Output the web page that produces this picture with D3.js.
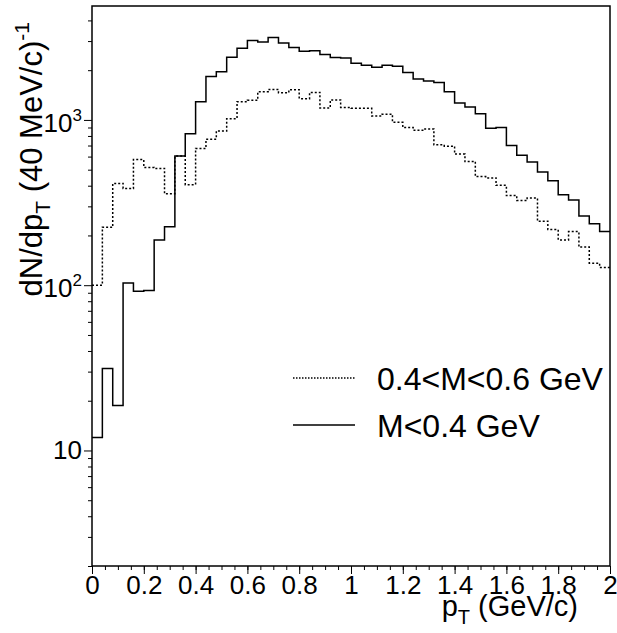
<!DOCTYPE html>
<html>
<head>
<meta charset="utf-8">
<script src="https://cdn.jsdelivr.net/npm/d3@7"></script>
<style>
  body { margin: 0; background: #fff; }
  text { font-family: "Liberation Sans", Arial, Helvetica, sans-serif; fill: #000; }
</style>
</head>
<body>
<div class="hist"></div>
<script>
// GLOBAL CONSTANTS
const MARGINS = {left: 92, right: 7, top: 6, bottom: 67};
const FRAME_WIDTH = 617;
const FRAME_HEIGHT = 633;

const GRAPH_WIDTH = FRAME_WIDTH - MARGINS.left - MARGINS.right;
const GRAPH_HEIGHT = FRAME_HEIGHT - MARGINS.top - MARGINS.bottom;

// DATA (lower bin edges in GeV/c, 40 MeV bins)
const BIN_LOW = [0.00, 0.04, 0.08, 0.12, 0.16, 0.20, 0.24, 0.28, 0.32, 0.36,
                 0.40, 0.44, 0.48, 0.52, 0.56, 0.60, 0.64, 0.68, 0.72, 0.76,
                 0.80, 0.84, 0.88, 0.92, 0.96, 1.00, 1.04, 1.08, 1.12, 1.16,
                 1.20, 1.24, 1.28, 1.32, 1.36, 1.40, 1.44, 1.48, 1.52, 1.56,
                 1.60, 1.64, 1.68, 1.72, 1.76, 1.80, 1.84, 1.88, 1.92, 1.96];
const PT_MAX = 2.0;

// M < 0.4 GeV (solid)
const LOW_MASS = [12.0, 31.3, 18.7, 103, 92, 93, 188, 226, 604, 824,
                  1289, 1834, 1954, 2398, 2716, 3020, 2963, 3150, 2924, 2740,
                  2606, 2620, 2488, 2389, 2370, 2203, 2143, 2085, 2143, 2113,
                  1936, 1766, 1718, 1687, 1480, 1266, 1197, 1091, 891, 899,
                  700, 612, 556, 484, 429, 353, 328, 262, 235, 211];

// 0.4 < M < 0.6 GeV (dotted)
const MID_MASS = [100, 224, 413, 385, 576, 516, 509, 357, 604, 406,
                  672, 765, 858, 1018, 1289, 1314, 1481, 1530, 1460, 1523,
                  1344, 1467, 1181, 1320, 1190, 1176, 1176, 1057, 1083, 968,
                  899, 866, 882, 707, 694, 621, 561, 454, 446, 402,
                  349, 325, 337, 244, 217, 188, 211, 170, 136, 128];

const X_TICKS = [0, 0.2, 0.4, 0.6, 0.8, 1, 1.2, 1.4, 1.6, 1.8, 2];
const X_TICK_LABELS = ["0", "0.2", "0.4", "0.6", "0.8", "1", "1.2", "1.4", "1.6", "1.8", "2"];
const Y_TICKS = [10, 100, 1000];
const Y_TICK_BASE = ["10", "10", "10"];
const Y_TICK_EXP = ["", "2", "3"];

const LEGEND_LABELS = ["0.4<M<0.6 GeV", "M<0.4 GeV"];

// FRAME
const FRAME = d3.select(".hist")
                .append("svg")
                  .attr("width", FRAME_WIDTH)
                  .attr("height", FRAME_HEIGHT);

// SCALES
const X_SCALE = d3.scaleLinear()
                  .domain([0, PT_MAX])
                  .range([0, GRAPH_WIDTH]);

const Y_SCALE = d3.scaleLog()
                  .domain([2.0, 4890])
                  .range([GRAPH_HEIGHT, 0]);

const PLOT = FRAME.append("g")
                  .attr("transform", "translate(" + MARGINS.left + "," + MARGINS.top + ")");

// X AXIS (minor then major)
PLOT.append("g")
    .attr("transform", "translate(0," + GRAPH_HEIGHT + ")")
    .call(d3.axisBottom(X_SCALE).ticks(40).tickSize(4).tickFormat(""))
    .call(g => g.select(".domain").remove());

PLOT.append("g")
    .attr("transform", "translate(0," + GRAPH_HEIGHT + ")")
    .call(d3.axisBottom(X_SCALE)
            .tickValues(X_TICKS)
            .tickSize(8)
            .tickPadding(2)
            .tickFormat((d, i) => X_TICK_LABELS[i]))
    .call(g => g.select(".domain").remove())
    .selectAll("text")
      .attr("font-size", "26px");

// Y AXIS (minor then major)
const Y_MINOR = Y_SCALE.ticks().filter((d) => Y_TICKS.indexOf(d) < 0);

PLOT.append("g")
    .call(d3.axisLeft(Y_SCALE).tickValues(Y_MINOR).tickSize(4).tickFormat(""))
    .call(g => g.select(".domain").remove());

const Y_AXIS = PLOT.append("g")
    .call(d3.axisLeft(Y_SCALE)
            .tickValues(Y_TICKS)
            .tickSize(8)
            .tickPadding(2)
            .tickFormat(""))
    .call(g => g.select(".domain").remove());

Y_AXIS.selectAll(".tick text")
    .attr("font-size", "26px")
    .each(function(d, i) {
        const t = d3.select(this);
        t.append("tspan").text(Y_TICK_BASE[i]);
        if (Y_TICK_EXP[i] !== "") {
            t.attr("dy", "0.45em");
            t.append("tspan")
             .attr("font-size", "17px")
             .attr("dy", "-11")
             .text(Y_TICK_EXP[i]);
        }
    });

// FRAME BOX
PLOT.append("rect")
    .attr("width", GRAPH_WIDTH)
    .attr("height", GRAPH_HEIGHT)
    .attr("fill", "none")
    .attr("stroke", "#000")
    .attr("stroke-width", 1.5);

// HISTOGRAMS
function stepPoints(values) {
    const pts = values.map((v, i) => ({x: BIN_LOW[i], y: v}));
    pts.push({x: PT_MAX, y: values[values.length - 1]});
    return pts;
}

const STEP_LINE = d3.line()
                    .x((d) => X_SCALE(d.x))
                    .y((d) => Y_SCALE(d.y))
                    .curve(d3.curveStepAfter);

PLOT.append("path")
    .attr("d", STEP_LINE(stepPoints(MID_MASS)))
    .attr("fill", "none")
    .attr("stroke", "#000")
    .attr("stroke-width", 1.5)
    .attr("stroke-dasharray", "2,2");

PLOT.append("path")
    .attr("d", STEP_LINE(stepPoints(LOW_MASS)))
    .attr("fill", "none")
    .attr("stroke", "#000")
    .attr("stroke-width", 1.5);

// LEGEND
const LEGEND = FRAME.append("g");
const LEGEND_Y = [378, 425];
const LEGEND_DASH = ["1.5,1.5", null];

LEGEND_LABELS.forEach((label, i) => {
    LEGEND.append("line")
        .attr("x1", 293).attr("x2", 355)
        .attr("y1", LEGEND_Y[i]).attr("y2", LEGEND_Y[i])
        .attr("stroke", "#000")
        .attr("stroke-width", 1.5)
        .attr("stroke-dasharray", LEGEND_DASH[i]);
    LEGEND.append("text")
        .attr("x", 377)
        .attr("y", LEGEND_Y[i] + 12)
        .attr("font-size", "32px")
        .text(label);
});

// AXIS TITLES
const X_TITLE = FRAME.append("text")
    .attr("x", 578)
    .attr("y", 616)
    .attr("text-anchor", "end")
    .attr("font-size", "29px");
X_TITLE.append("tspan").text("p");
X_TITLE.append("tspan").attr("font-size", "20px").attr("dy", 8).text("T");
X_TITLE.append("tspan").attr("dy", -8).text(" (GeV/c)");

const Y_TITLE = FRAME.append("text")
    .attr("transform", "translate(42,22) rotate(-90)")
    .attr("text-anchor", "end")
    .attr("font-size", "31px");
Y_TITLE.append("tspan").text("dN/dp");
Y_TITLE.append("tspan").attr("font-size", "21px").attr("dy", 8).text("T");
Y_TITLE.append("tspan").attr("dy", -8).text(" (40 MeV/c)");
Y_TITLE.append("tspan").attr("font-size", "21px").attr("dy", -13).text("-1");
</script>
</body>
</html>
